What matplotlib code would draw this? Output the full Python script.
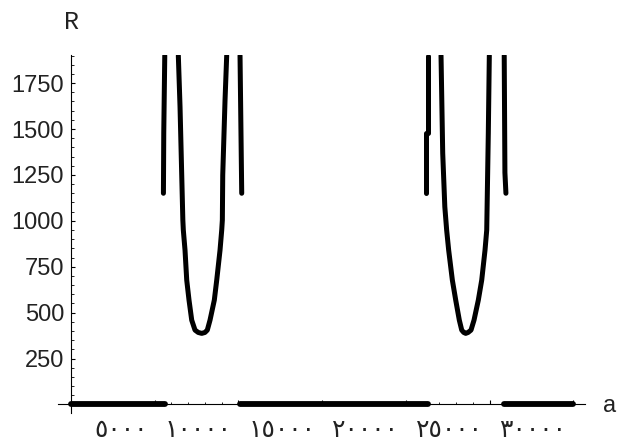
import matplotlib
matplotlib.use("Agg")
import matplotlib.pyplot as plt
from matplotlib.ticker import MultipleLocator, FixedLocator, NullFormatter

# values (a on x, R on y)
zero_a = [[0, 5600], [10100, 21330], [25870, 30000]]

outer1_left_a = [5520, 5540, 5600]
outer1_left_R = [1150, 1480, 1900]
inner1_a = [6410, 6512, 6613, 6680, 6709, 6810, 6912, 7049, 7210, 7407, 7600, 7808,
            8000, 8142, 8303, 8560, 8704, 8901, 9002, 9040, 9063, 9200, 9300]
inner1_R = [1900, 1621, 1249, 1004, 949, 840, 677, 568, 459, 405, 392, 387,
            392, 405, 459, 568, 677, 840, 949, 1004, 1249, 1657, 1900]
outer1_right_a = [10197, 10150, 10096]
outer1_right_R = [1150, 1500, 1900]

outer2_left_a = [21190, 21190, 21310, 21310]
outer2_left_R = [1150, 1480, 1480, 1900]
inner2_a = [22103, 22204, 22330, 22440, 22560, 22780, 22981, 23196, 23339, 23460, 23578,
            23720, 23895, 24074, 24331, 24534, 24731, 24833, 24869, 24928, 24988]
inner2_R = [1900, 1369, 1076, 949, 840, 677, 568, 459, 405, 392, 387,
            392, 405, 459, 568, 677, 840, 949, 1150, 1478, 1900]
outer2_right_a = [25980, 25920, 25878]
outer2_right_R = [1150, 1262, 1900]

y_ticks = [250, 500, 750, 1000, 1250, 1500, 1750]
x_ticks = [5000, 10000, 15000, 20000, 25000, 30000]
x_labels = ["٥٠٠٠", "١٠٠٠٠", "١٥٠٠٠", "٢٠٠٠٠", "٢٥٠٠٠", "٣٠٠٠٠"]

W, H = 617, 441
fig = plt.figure(figsize=(W / 100, H / 100), dpi=100)
left, right, bottom, top = 58.3, 585, 412.7, 55
ax = fig.add_axes([left / W, 1 - bottom / H, (right - left) / W, (bottom - top) / H])

lw = 3.6
for seg in zero_a:
    ax.plot(seg, [0, 0], color="black", lw=lw + 0.6, solid_capstyle="round")
for xs, ys in [(outer1_left_a, outer1_left_R), (inner1_a, inner1_R),
               (outer1_right_a, outer1_right_R), (outer2_left_a, outer2_left_R),
               (inner2_a, inner2_R), (outer2_right_a, outer2_right_R)]:
    ax.plot(xs, ys, color="black", lw=lw, solid_capstyle="round",
            solid_joinstyle="round")

ax.set_xlim(-760, 30704)
ax.set_ylim(-45, 1903)

for s in ["top", "right"]:
    ax.spines[s].set_visible(False)
ax.spines["left"].set_position(("data", 0))
ax.spines["bottom"].set_position(("data", 0))
ax.spines["left"].set_linewidth(0.8)
ax.spines["bottom"].set_linewidth(0.8)

ax.yaxis.set_major_locator(FixedLocator(y_ticks))
ax.yaxis.set_minor_locator(MultipleLocator(50))
ax.xaxis.set_major_locator(FixedLocator(x_ticks))
ax.xaxis.set_minor_locator(MultipleLocator(1000))
ax.xaxis.set_major_formatter(NullFormatter())
ax.tick_params(which="major", direction="in", length=3.2, width=0.8, color="black")
ax.tick_params(which="minor", direction="in", length=1.8, width=0.6, color="black")
ax.tick_params(axis="y", which="major", pad=5, labelsize=17, labelcolor="#222222")
for lbl in ax.get_yticklabels():
    lbl.set_family("Liberation Sans")

for v, t in zip(x_ticks, x_labels):
    ax.annotate(t, xy=(v, 0), xytext=(-7, -14), textcoords="offset pixels",
                ha="right", va="top", fontsize=18, family="DejaVu Sans",
                color="#222222", annotation_clip=False)

fig.text(72 / W, 1 - 22 / H, "R", ha="center", va="center",
         family="Liberation Mono", fontsize=18, color="#222222")
fig.text(610 / W, 1 - 406 / H, "a", ha="center", va="center",
         family="Liberation Sans", fontsize=17, color="#222222")

fig.savefig("out.png", dpi=100)
